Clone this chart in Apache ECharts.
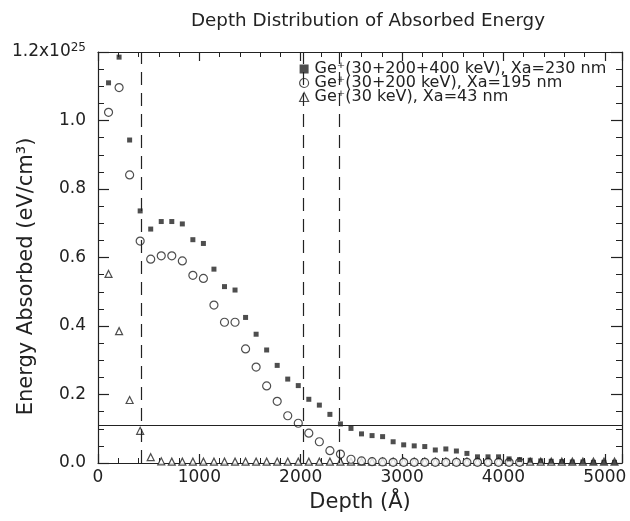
<!DOCTYPE html>
<html>
<head>
<meta charset="utf-8">
<script src="https://cdn.jsdelivr.net/npm/echarts@6/dist/echarts.min.js"></script>
<style>
html,body{margin:0;padding:0;background:#fff;}
#chart{width:630px;height:521px;}
</style>
</head>
<body>
<div id="chart"></div>
<script>
const titleText = 'Depth Distribution of Absorbed Energy';
const xName = 'Depth (Å)';
const yName = 'Energy Absorbed (eV/cm³)';
const depth = [104,208,312,416,520,624,728,832,936,1040,1144,1248,1352,1456,1560,1664,1768,1872,1976,2080,2184,2288,2392,2496,2600,2704,2808,2912,3016,3120,3224,3328,3432,3536,3640,3744,3848,3952,4056,4160,4264,4368,4472,4576,4680,4784,4888,4992,5096];
const geTriple = [1.11,1.185,0.943,0.736,0.683,0.705,0.705,0.698,0.652,0.641,0.566,0.515,0.505,0.425,0.376,0.33,0.285,0.245,0.226,0.186,0.169,0.142,0.114,0.101,0.085,0.080,0.077,0.062,0.053,0.050,0.048,0.038,0.041,0.035,0.028,0.018,0.018,0.018,0.012,0.010,0.008,0.006,0.005,0.004,0.003,0.003,0.002,0.002,0.002];
const geDouble = [1.024,1.096,0.841,0.648,0.595,0.605,0.605,0.59,0.548,0.539,0.461,0.411,0.411,0.333,0.28,0.225,0.18,0.138,0.116,0.087,0.062,0.036,0.026,0.011,0.006,0.004,0.003,0.002,0.002,0.002,0.002,0.002,0.002,0.002,0.002,0.002,0.002,0.002,0.002,0.002];
const geSingle = [0.552,0.385,0.184,0.094,0.017,0.005,0.004,0.004,0.004,0.004,0.004,0.004,0.004,0.004,0.004,0.004,0.004,0.004,0.004,0.004,0.004,0.004,0.004,0.004,0.004,0.004,0.004,0.004,0.004,0.004,0.004,0.004,0.004,0.004,0.004,0.004,0.004,0.004,0.004,0.004,0.004,0.004,0.004,0.004,0.004,0.004,0.004,0.004,0.004];
const legendNames = ['Ge⁺(30+200+400 keV), Xa=230 nm','Ge⁺(30+200 keV), Xa=195 nm','Ge⁺(30 keV), Xa=43 nm'];
const projRanges = [430, 2030, 2380];
const thresholdLevel = 0.11;
const xTicks = [0,1000,2000,3000,4000,5000];
const yTicks = [0.0,0.2,0.4,0.6,0.8,1.0,1.2];

const FONT = 'DejaVu Sans';
const INK = '#222';
function pairs(ys){ return ys.map((v,i)=>[depth[i], v]); }

const chart = echarts.init(document.getElementById('chart'), null, {renderer:'canvas'});
const axisLineStyle = {color: INK, width: 1.2};
const option = {
  backgroundColor:'#fff',
  animation:false,
  title:{text:titleText, left:363, top:7, textAlign:'center',
    textStyle:{fontFamily:FONT, fontWeight:'normal', fontSize:18.3, color:INK}},
  legend:{
    orient:'vertical', left:294, top:56, itemGap:-2, itemWidth:9, itemHeight:9,
    textStyle:{fontFamily:FONT, fontSize:16, lineHeight:13, color:INK, padding:[0,0,0,1]},
    data:[
      {name:legendNames[0], icon:'rect', itemStyle:{color:INK}},
      {name:legendNames[1], icon:'circle', itemStyle:{color:'#fff', borderColor:INK, borderWidth:1.2}},
      {name:legendNames[2], icon:'triangle', itemStyle:{color:'#fff', borderColor:INK, borderWidth:1.2}}
    ]
  },
  grid:{left:98, right:8, top:52, bottom:58, outerBoundsMode:'none', containLabel:false},
  xAxis:[{
    type:'value', min:0, max:5170, interval:1000,
    name:xName, nameLocation:'middle', nameGap:29, nameMoveOverlap:false,
    nameTextStyle:{fontFamily:FONT, fontSize:21, color:INK},
    axisLine:{show:true, onZero:false, lineStyle:axisLineStyle},
    axisTick:{show:true, inside:true, length:9, lineStyle:axisLineStyle},
    minorTick:{show:true, splitNumber:5, length:5, lineStyle:{color:INK}},
    axisLabel:{fontFamily:FONT, fontSize:17, color:INK, margin:6,
      formatter:v=> xTicks.indexOf(v)>=0 ? String(v) : ''},
    splitLine:{show:false}
  },{
    type:'value', position:'top', min:0, max:5170, interval:1000,
    axisLine:{show:true, onZero:false, lineStyle:axisLineStyle},
    axisTick:{show:true, inside:true, length:9, lineStyle:axisLineStyle},
    minorTick:{show:true, splitNumber:5, length:5, lineStyle:{color:INK}},
    axisLabel:{show:false}, splitLine:{show:false}
  }],
  yAxis:[{
    type:'value', min:0, max:1.2, interval:0.2,
    name:yName, nameLocation:'middle', nameGap:61, nameRotate:90, nameMoveOverlap:false,
    nameTextStyle:{fontFamily:FONT, fontSize:21, color:INK, padding:[0,38,0,0]},
    axisLine:{show:true, onZero:false, lineStyle:axisLineStyle},
    axisTick:{show:true, inside:true, length:11, lineStyle:axisLineStyle},
    minorTick:{show:true, splitNumber:4, length:6, lineStyle:{color:INK}},
    axisLabel:{fontFamily:FONT, fontSize:17, color:INK, margin:12,
      formatter:v=>{
        const t = yTicks.find(y=>Math.abs(y-v)<1e-6);
        if(t===undefined) return '';
        if(Math.abs(t-1.2)<1e-6) return '1.2x10{sup|25}';
        return t.toFixed(1);
      },
      rich:{sup:{fontFamily:FONT, fontSize:12, color:INK, verticalAlign:'top', padding:[0,0,8,0]}}
    },
    splitLine:{show:false}
  },{
    type:'value', position:'right', min:0, max:1.2, interval:0.2,
    axisLine:{show:true, onZero:false, lineStyle:axisLineStyle},
    axisTick:{show:true, inside:true, length:11, lineStyle:axisLineStyle},
    minorTick:{show:true, splitNumber:4, length:6, lineStyle:{color:INK}},
    axisLabel:{show:false}, splitLine:{show:false}
  }],
  series:[
    {name:legendNames[0], type:'scatter', symbol:'rect', symbolSize:5,
     itemStyle:{color:INK}, data:pairs(geTriple), z:5,
     markLine:{silent:true, symbol:'none', label:{show:false},
       lineStyle:{color:INK, width:1.2, type:[13,8]},
       data:[{xAxis:projRanges[0]},{xAxis:projRanges[1]},{xAxis:projRanges[2]}]}},
    {name:legendNames[1], type:'scatter', symbol:'circle', symbolSize:8,
     itemStyle:{color:'#fff', borderColor:INK, borderWidth:1.2}, data:pairs(geDouble), z:4,
     markLine:{silent:true, symbol:'none', label:{show:false},
       lineStyle:{color:INK, width:1.2, type:'solid'},
       data:[{yAxis:thresholdLevel}]}},
    {name:legendNames[2], type:'scatter', symbol:'triangle', symbolSize:7,
     itemStyle:{color:'#fff', borderColor:INK, borderWidth:1.2}, data:pairs(geSingle), z:3}
  ]
};
chart.setOption(option);
</script>
</body>
</html>
